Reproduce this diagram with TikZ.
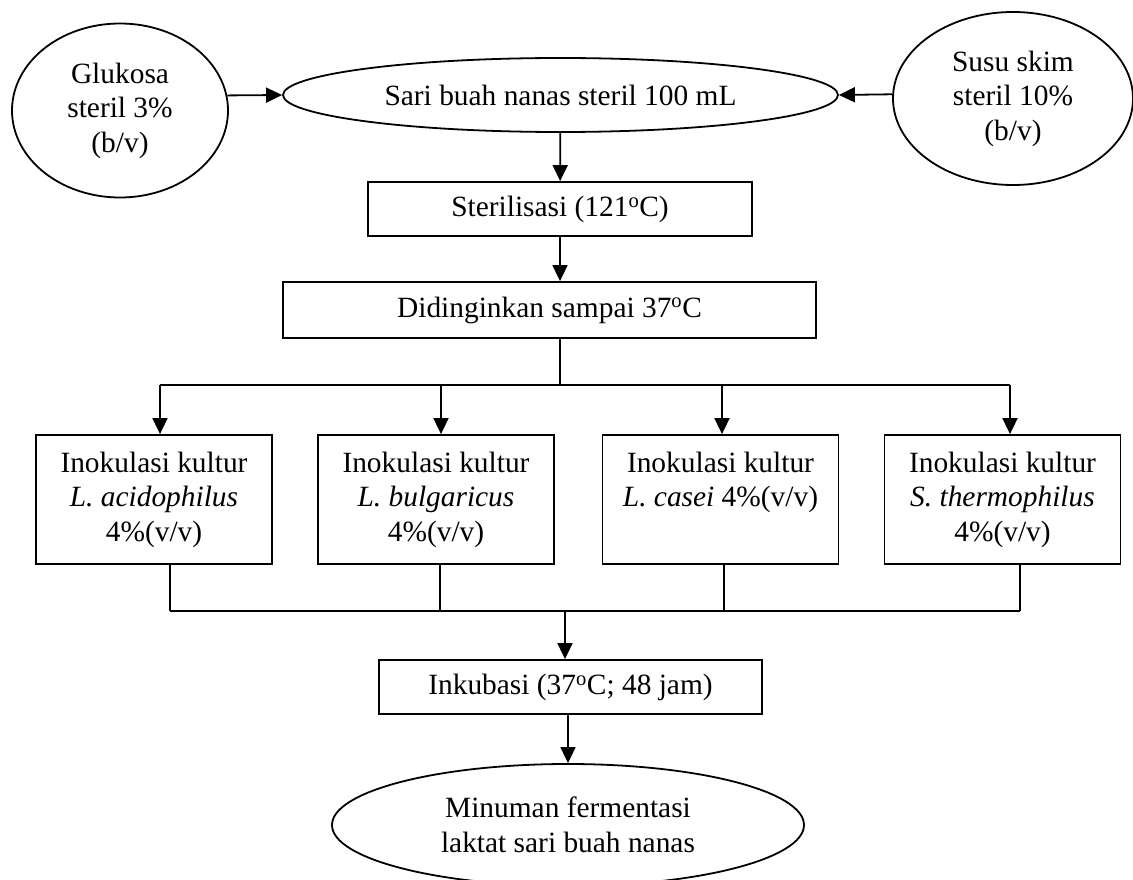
\documentclass[tikz,border=0pt]{standalone}
\usepackage{fontspec}
\setmainfont{Liberation Serif}
\usetikzlibrary{shapes.geometric, arrows.meta}

\newcommand{\inotext}[1]{\parbox[c][129pt][t]{236pt}{\centering\vspace*{17pt}#1}}

\begin{document}
\begin{tikzpicture}[x=1pt, y=-1pt,
  line width=1.8pt,
  every node/.style={font=\fontsize{29.4}{34.5}\selectfont, inner sep=0pt},
  oval/.style={draw, ellipse, align=center, inner sep=0pt},
  box/.style={draw, rectangle, align=center, inner sep=0pt},
  inobox/.style={draw, rectangle, inner sep=0pt},
  arr/.style={-{Triangle[length=16pt,width=15pt]}}
]
\useasboundingbox (0,0) rectangle (1133,880);
\clip (0,0) rectangle (1133,880);

% top row
\node[oval, minimum width=216pt, minimum height=174pt] (glu) at (120,110.5) {Glukosa\\steril 3\%\\(b/v)};
\node[oval, minimum width=555pt, minimum height=74pt] (sari) at (560.5,95) {Sari buah nanas steril 100 mL};
\node[oval, minimum width=240pt, minimum height=173pt] (susu) at (1013,98.5) {Susu skim\\steril 10\%\\(b/v)};

\draw[arr] (glu.8.3) -- (sari.west);
\draw[arr] (susu.178.5) -- (sari.east);

% process boxes
\node[box, minimum width=384pt, minimum height=54pt] (steril) at (560,209) {Sterilisasi (121\textsuperscript{o}C)};
\node[box, minimum width=533pt, minimum height=56pt] (dingin) at (549.5,310) {Didinginkan sampai 37\textsuperscript{o}C};

\draw[arr] (sari) -- (steril);
\draw[arr] (steril.south) -- (steril.south |- dingin.north);

% branching
\coordinate (br) at (560,385);
\coordinate (b1) at (160,385);
\coordinate (b2) at (441,385);
\coordinate (b3) at (722,385);
\coordinate (b4) at (1010,385);
\draw (dingin.south -| br) -- (br);
\draw (b1) -- (b4);

\node[inobox] (ino1) at (154,499.5) {\inotext{Inokulasi kultur\\\textit{L. acidophilus}\\4\%(v/v)}};
\node[inobox] (ino2) at (436,499.5) {\inotext{Inokulasi kultur\\\textit{L. bulgaricus}\\4\%(v/v)}};
\node[inobox] (ino3) at (720.5,499.5) {\inotext{Inokulasi kultur\\\textit{L. casei} 4\%(v/v)}};
\node[inobox] (ino4) at (1002.5,499.5) {\inotext{Inokulasi kultur\\\textit{S. thermophilus}\\4\%(v/v)}};

\draw[arr] (b1) -- (b1 |- ino1.north);
\draw[arr] (b2) -- (b2 |- ino2.north);
\draw[arr] (b3) -- (b3 |- ino3.north);
\draw[arr] (b4) -- (b4 |- ino4.north);

% merging
\coordinate (c1) at (170,611);
\coordinate (c2) at (440,611);
\coordinate (c3) at (724,611);
\coordinate (c4) at (1020,611);
\coordinate (cm) at (565,611);
\draw (ino1.south -| c1) -- (c1);
\draw (ino2.south -| c2) -- (c2);
\draw (ino3.south -| c3) -- (c3);
\draw (ino4.south -| c4) -- (c4);
\draw (c1) -- (c4);

\node[box, minimum width=383pt, minimum height=54pt] (inku) at (570.5,687) {Inkubasi (37\textsuperscript{o}C; 48 jam)};
\draw[arr] (cm) -- (cm |- inku.north);

\node[oval, minimum width=472pt, minimum height=122pt] (final) at (568,825) {Minuman fermentasi\\laktat sari buah nanas};
\draw[arr] (inku.south -| final.north) -- (final.north);
\end{tikzpicture}
\end{document}
